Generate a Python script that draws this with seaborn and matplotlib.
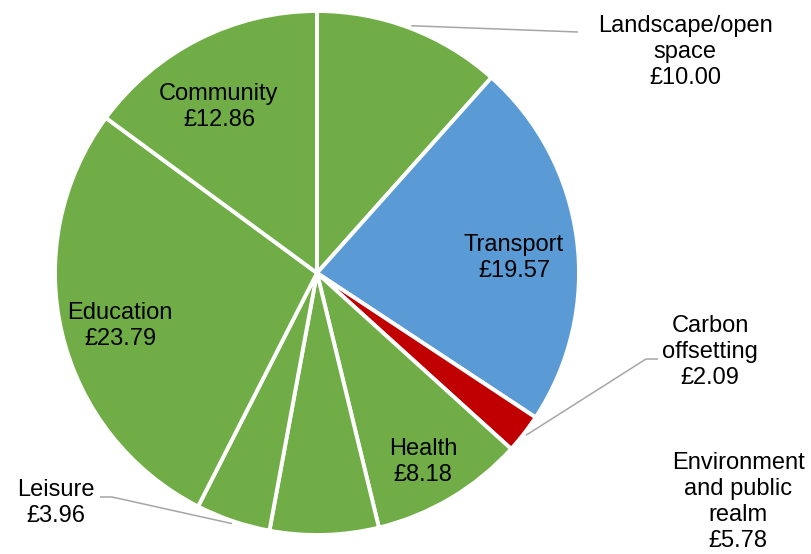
import numpy as np
import matplotlib.pyplot as plt
import seaborn as sns

# --- data ---
categories = ["Landscape/open\nspace", "Transport", "Carbon\noffsetting", "Health",
              "Environment\nand public\nrealm", "Leisure", "Education", "Community"]
values = [10.00, 19.57, 2.09, 8.18, 5.78, 3.96, 23.79, 12.86]
slice_colors = ["#70AD47", "#5B9BD5", "#C00000", "#70AD47",
                "#70AD47", "#70AD47", "#70AD47", "#70AD47"]

# --- layout (image pixels, y down) ---
W, H = 811, 554
cx, cy, r = 317, 273, 262
label_pos = {
    "Landscape/open\nspace": (685, 52),
    "Transport": (514, 258),
    "Carbon\noffsetting": (710, 352),
    "Health": (423, 462),
    "Environment\nand public\nrealm": (738, 502),
    "Leisure": (56, 503),
    "Education": (120, 326),
    "Community": (219, 107),
}
leader_pts = {
    "Landscape/open\nspace": [(578, 32)],
    "Carbon\noffsetting": [(646, 359), (658, 359)],
    "Leisure": [(112, 497), (100, 497)],
}

sns.set_theme(style="white")
plt.rcParams["font.family"] = ["Liberation Sans", "DejaVu Sans"]


def px(x, y):
    return x, H - y


fig = plt.figure(figsize=(W / 100, H / 100), dpi=100)
ax = fig.add_axes([0, 0, 1, 1])

ax.pie(values, colors=slice_colors, startangle=90, counterclock=False,
       radius=r, center=px(cx, cy), frame=False,
       wedgeprops=dict(edgecolor="white", linewidth=2.8))

# mid angle of each slice (clockwise from 12 o'clock)
total = sum(values)
cum = np.cumsum([0] + values[:-1])
for name, v, c0 in zip(categories, values, cum):
    frac_mid = (c0 + v / 2) / total
    theta = np.deg2rad(90 - 360 * frac_mid)
    tx, ty = label_pos[name]
    ax.text(*px(tx, ty), f"{name}\n£{v:.2f}", ha="center", va="center",
            fontsize=17, linespacing=1.22, color="black")
    if name in leader_pts:
        x0, y0 = px(cx, cy)
        sx = x0 + r * 1.01 * np.cos(theta)
        sy = y0 + r * 1.01 * np.sin(theta)
        pts = [(sx, sy)] + [px(*p) for p in leader_pts[name]]
        xs, ys = zip(*pts)
        ax.plot(xs, ys, color="#A6A6A6", lw=1.1, solid_capstyle="butt")

ax.set_xlim(0, W)
ax.set_ylim(0, H)
ax.set_aspect("equal")
ax.axis("off")

plt.savefig("out.png", dpi=100)
